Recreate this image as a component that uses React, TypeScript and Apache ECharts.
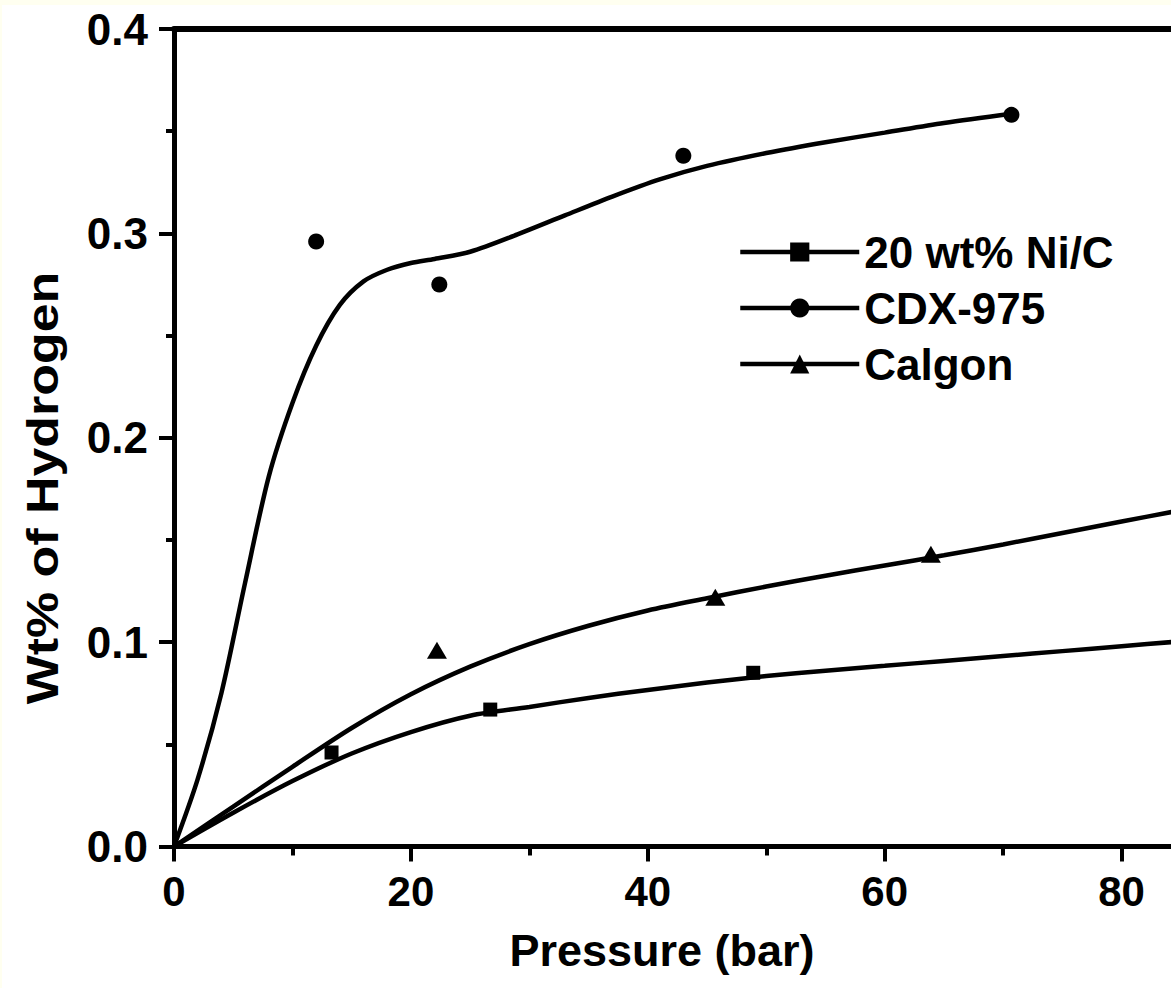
import React, { useEffect, useRef } from "react";
import * as echarts from "echarts";

// ---- data ----
const niName = "20 wt% Ni/C";
const cdxName = "CDX-975";
const calName = "Calgon";

// measured points
const niPtsX = [13.3, 26.7, 48.9];
const niPtsY = [0.046, 0.067, 0.085];
const cdxPtsX = [12.0, 22.4, 43.0, 70.7];
const cdxPtsY = [0.296, 0.275, 0.338, 0.358];
const calPtsX = [22.2, 45.7, 63.9];
const calPtsY = [0.096, 0.122, 0.143];

// fitted curves
const niFitX = [0, 5, 10, 15, 20, 25, 30, 35, 40, 45, 50, 55, 60, 65, 70, 75, 80, 85];
const niFitY = [0, 0.0165, 0.032, 0.0455, 0.056, 0.064, 0.0683, 0.0727, 0.0766, 0.0802, 0.0834, 0.086, 0.0884, 0.0908, 0.0932, 0.0956, 0.098, 0.1004];
const cdxFitX = [0, 2, 4, 6, 8, 10, 12, 14, 16, 18, 20, 22, 25, 29, 33, 37, 41, 45, 50, 55, 60, 65, 70.7];
const cdxFitY = [0, 0.033, 0.075, 0.129, 0.181, 0.217, 0.245, 0.265, 0.2765, 0.2822, 0.2855, 0.2875, 0.291, 0.2995, 0.3088, 0.318, 0.3264, 0.333, 0.3393, 0.3446, 0.3493, 0.354, 0.3585];
const calFitX = [0, 5, 10, 15, 20, 25, 30, 35, 40, 45, 50, 55, 60, 65, 70, 75, 80, 85];
const calFitY = [0, 0.0195, 0.039, 0.058, 0.0745, 0.088, 0.099, 0.108, 0.1155, 0.1215, 0.1272, 0.1325, 0.1375, 0.1425, 0.1478, 0.1534, 0.159, 0.1645];

const xTitle = "Pressure (bar)";
const yTitle = "Wt% of Hydrogen";

const zip = (xs: number[], ys: number[]) => xs.map((x, i) => [x, ys[i]]);

const FONT = "'Liberation Sans', Arial, sans-serif";

export default function App() {
  const ref = useRef<HTMLDivElement>(null);
  useEffect(() => {
    if (!ref.current) return;
    const chart = echarts.init(ref.current, null, { renderer: "svg" });
    const axisLine = { show: true, lineStyle: { color: "#000", width: 5 } };
    const lineSeries = (name: string, xs: number[], ys: number[], symbol: string) => ({
      type: "line",
      name,
      data: zip(xs, ys),
      smooth: 0.3,
      symbol,
      showSymbol: false,
      symbolSize: 16,
      lineStyle: { color: "#000", width: 4.5 },
      itemStyle: { color: "#000", borderWidth: 0 },
      z: 2,
    });
    const scatterSeries = (name: string, xs: number[], ys: number[], symbol: string, size: any) => ({
      type: "scatter",
      name,
      data: zip(xs, ys),
      symbol,
      symbolSize: size,
      itemStyle: { color: "#000", opacity: 1 },
      z: 3,
    });
    chart.setOption({
      animation: false,
      backgroundColor: "#fff",
      grid: {
        left: 174,
        top: 29,
        width: 1184.5,
        height: 817.5,
        containLabel: false,
        outerBoundsMode: "none",
      },
      xAxis: [
        {
          type: "value",
          min: 0,
          max: 100,
          interval: 20,
          axisLine,
          axisTick: { show: true, length: 15, lineStyle: { color: "#000", width: 4 } },
          minorTick: { show: true, splitNumber: 2, length: 9, lineStyle: { color: "#000", width: 4 } },
          splitLine: { show: false },
          axisLabel: {
            margin: 24,
            fontSize: 42,
            fontWeight: "bold",
            fontFamily: FONT,
            color: "#000",
            showMaxLabel: false,
          },
        },
        {
          type: "value",
          position: "top",
          min: 0,
          max: 100,
          axisLine: { show: true, lineStyle: { color: "#000", width: 6 } },
          axisTick: { show: false },
          axisLabel: { show: false },
          splitLine: { show: false },
        },
      ],
      yAxis: {
        type: "value",
        min: 0,
        max: 0.4,
        interval: 0.1,
        axisLine,
        axisTick: { show: true, length: 15, lineStyle: { color: "#000", width: 4 } },
        minorTick: { show: true, splitNumber: 2, length: 8, lineStyle: { color: "#000", width: 4 } },
        splitLine: { show: false },
        axisLabel: {
          margin: 26,
          fontSize: 44,
          fontWeight: "bold",
          fontFamily: FONT,
          color: "#000",
          formatter: (v: number) => v.toFixed(1),
        },
      },
      legend: {
        orient: "vertical",
        left: 738,
        top: 230,
        padding: 0,
        itemWidth: 119,
        itemHeight: 24,
        itemGap: 12,
        data: [niName, cdxName, calName],
        lineStyle: { width: 4.5 },
        textStyle: { fontSize: 44, fontWeight: "bold", fontFamily: FONT, color: "#000" },
      },
      graphic: [
        { type: "rect", shape: { x: 0, y: 0, width: 1400, height: 5 }, style: { fill: "#FFFFF0" }, silent: true },
        { type: "rect", shape: { x: 0, y: 0, width: 2, height: 988 }, style: { fill: "#FFFFF0" }, silent: true },
        {
          type: "text",
          x: 662,
          y: 950,
          style: {
            text: xTitle,
            fontSize: 45,
            fontWeight: "bold",
            fontFamily: FONT,
            fill: "#000",
            align: "center",
            verticalAlign: "middle",
          },
        },
        {
          type: "text",
          x: 42,
          y: 488,
          rotation: Math.PI / 2,
          scaleX: 1.18,
          style: {
            text: yTitle,
            fontSize: 44,
            fontWeight: "bold",
            fontFamily: FONT,
            fill: "#000",
            align: "center",
            verticalAlign: "middle",
          },
        },
      ],
      series: [
        lineSeries(niName, niFitX, niFitY, "rect"),
        lineSeries(cdxName, cdxFitX, cdxFitY, "circle"),
        lineSeries(calName, calFitX, calFitY, "triangle"),
        scatterSeries(niName + " data", niPtsX, niPtsY, "rect", 14),
        scatterSeries(cdxName + " data", cdxPtsX, cdxPtsY, "circle", 16),
        scatterSeries(calName + " data", calPtsX, calPtsY, "triangle", [20, 17]),
      ],
    });
    return () => chart.dispose();
  }, []);
  return (
    <div style={{ position: "fixed", left: 0, top: 0, width: 1171, height: 988, overflow: "hidden", background: "#fff" }}>
      <div ref={ref} style={{ position: "absolute", left: 0, top: 0, width: 1400, height: 988 }} />
    </div>
  );
}
